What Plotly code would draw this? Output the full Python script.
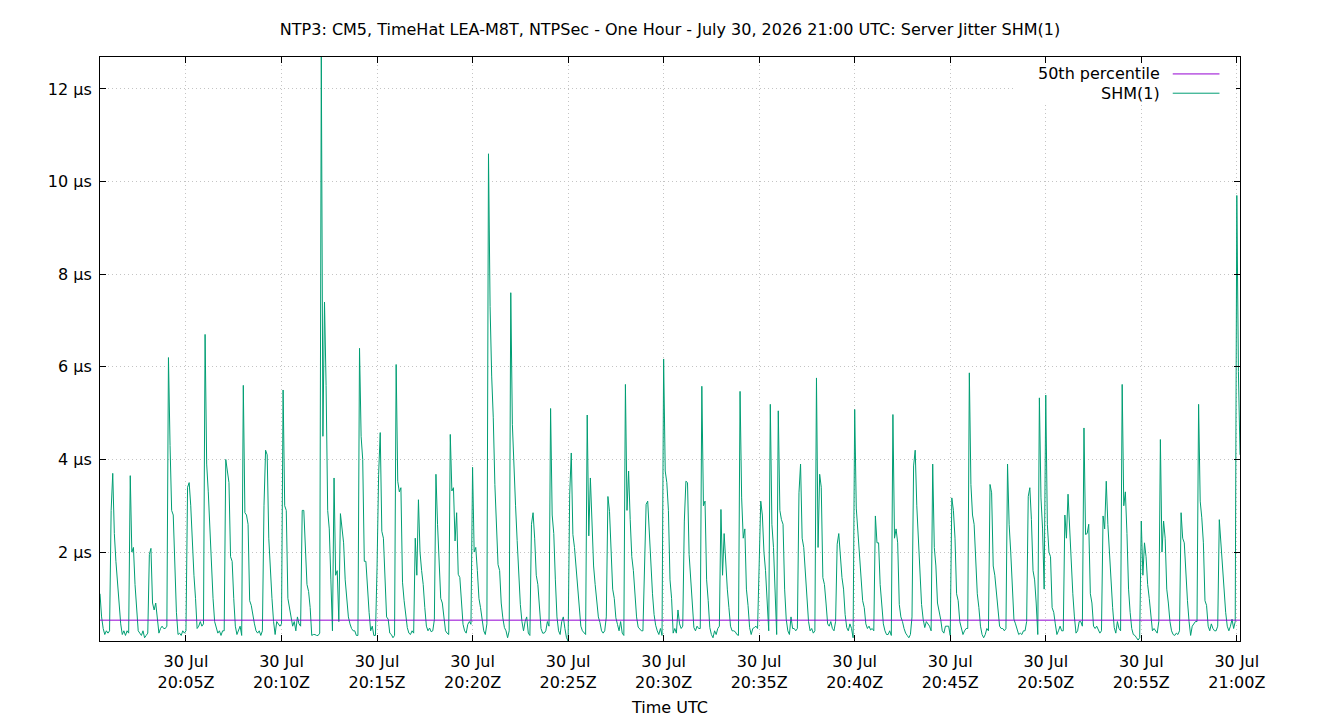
import plotly.graph_objects as go
import pandas as pd

title_text = "NTP3: CM5, TimeHat LEA-M8T, NTPSec - One Hour - July 30, 2026 21:00 UTC: Server Jitter SHM(1)"
first_sample = "2026-07-30 20:00:30"
sample_step = "5s"
median_us = 0.53

x_tick_times = ["2026-07-30 20:05", "2026-07-30 20:10", "2026-07-30 20:15", "2026-07-30 20:20",
                "2026-07-30 20:25", "2026-07-30 20:30", "2026-07-30 20:35", "2026-07-30 20:40",
                "2026-07-30 20:45", "2026-07-30 20:50", "2026-07-30 20:55", "2026-07-30 21:00"]
x_tick_text = ["30 Jul<br>20:05Z", "30 Jul<br>20:10Z", "30 Jul<br>20:15Z", "30 Jul<br>20:20Z",
               "30 Jul<br>20:25Z", "30 Jul<br>20:30Z", "30 Jul<br>20:35Z", "30 Jul<br>20:40Z",
               "30 Jul<br>20:45Z", "30 Jul<br>20:50Z", "30 Jul<br>20:55Z", "30 Jul<br>21:00Z"]
y_tick_vals = [2, 4, 6, 8, 10, 12]
y_tick_text = ["2 µs", "4 µs", "6 µs", "8 µs", "10 µs", "12 µs"]

# SHM(1) jitter in microseconds, one sample every 5 s, 20:00:30 .. 21:00:10
jitter_2000 = [
    1.1, 0.6, 0.35, 0.22, 0.3,
    0.25, 0.3, 2.9, 3.7, 2.4, 1.8, 1.3, 0.9, 0.45, 0.22, 0.3, 0.2,
    0.3, 0.25, 3.65, 2.0, 2.1, 1.3, 0.85, 0.3, 0.25, 0.2, 0.3, 0.15,
    0.2, 0.25, 1.95, 2.08, 0.9, 0.75, 0.9, 0.6, 0.25, 0.35, 0.4, 0.35,
    0.35, 0.4, 6.2, 4.3, 2.9, 2.8, 1.6, 0.7, 0.22, 0.25, 0.2, 0.3,
    0.25, 0.3, 3.4, 3.5, 3.0, 2.2, 1.5, 1.0, 0.35, 0.4, 0.5, 0.4,
    0.45, 6.7, 3.9, 3.3, 2.5, 1.5, 1.0, 0.5, 0.37, 0.25, 0.3, 0.2,
    0.3, 0.3, 4.0, 3.7, 3.5, 1.9, 1.8, 1.0, 0.4, 0.22, 0.3, 0.4,
    0.2, 5.6, 2.85, 2.8, 2.6, 0.95, 0.85, 0.6, 0.45, 0.3, 0.25, 0.3,
    0.2, 0.3, 3.0, 4.2, 4.1, 2.3, 1.5, 1.0, 0.5, 0.22, 0.5, 0.45,
    0.4, 0.45, 5.5, 3.0, 2.9, 1.0, 0.8, 0.6, 0.4, 0.5, 0.3, 0.6,
]
jitter_2010 = [
    0.45, 0.4, 2.9, 2.9, 1.9, 1.3, 1.15, 0.8, 0.2, 0.22, 0.22, 0.2,
    0.2, 0.25, 12.69, 4.5, 7.4, 5.6, 2.9, 2.5, 1.4, 0.3, 3.6, 1.5,
    1.6, 0.5, 2.83, 2.5, 2.2, 1.4, 0.95, 0.6, 0.45, 0.35, 0.3, 0.3,
    0.2, 0.2, 6.4, 4.5, 4.0, 1.8, 1.8, 1.2, 0.7, 0.3, 0.4, 0.2,
    0.2, 1.66, 3.68, 4.58, 2.45, 2.3, 1.45, 0.6, 0.55, 0.25, 0.22, 0.15,
    0.2, 6.05, 3.53, 3.3, 3.39, 1.35, 0.95, 0.6, 0.37, 0.25, 0.22, 0.3,
    0.25, 2.3, 1.5, 3.13, 2.0, 1.6, 1.3, 0.8, 0.4, 0.3, 0.36, 0.28,
    0.3, 0.54, 3.68, 2.6, 1.7, 1.0, 0.9, 0.65, 0.3, 0.25, 0.22, 4.54,
    3.32, 3.39, 2.24, 2.85, 1.52, 1.45, 1.0, 0.44, 0.3, 0.25, 0.44, 0.5,
    0.44, 3.83, 2.0, 2.1, 1.6, 1.0, 0.8, 0.58, 0.3, 0.22, 0.45, 10.6,
]
jitter_2020 = [
    7.3, 5.8, 4.9, 3.46, 2.5, 1.73, 1.6, 0.9, 0.58, 0.37, 0.3, 0.15,
    0.3, 7.6, 4.76, 3.7, 3.0, 2.25, 1.37, 0.87, 0.5, 0.3, 0.5, 0.6,
    0.25, 0.2, 2.6, 2.85, 2.3, 1.5, 1.3, 0.9, 0.35, 0.25, 0.25, 0.3,
    0.5, 0.4, 5.1, 2.8, 2.4, 1.4, 0.6, 0.3, 0.22, 0.5, 0.6, 0.35,
    0.15, 0.08, 3.25, 4.14, 2.38, 2.1, 1.7, 1.2, 0.8, 0.4, 0.3, 0.25,
    0.22, 4.96, 2.35, 3.6, 2.5, 1.7, 1.3, 0.85, 0.6, 0.48, 0.3, 0.25,
    0.3, 0.6, 3.2, 2.88, 1.9, 1.2, 1.0, 0.58, 0.44, 0.3, 0.5, 0.25,
    0.2, 5.62, 2.9, 3.75, 2.7, 1.9, 1.6, 1.0, 0.6, 0.38, 0.35, 0.3,
    0.3, 2.0, 3.03, 3.1, 2.4, 1.5, 1.1, 0.65, 0.42, 0.3, 0.22, 0.35,
    0.2, 6.17, 3.75, 3.5, 2.9, 1.4, 1.0, 0.25, 0.35, 0.25, 0.75, 0.45,
]
jitter_2030 = [
    0.35, 0.4, 2.67, 3.53, 3.5, 1.95, 1.45, 0.8, 0.37, 0.3, 0.4, 0.35,
    0.35, 5.58, 3.0, 3.1, 1.4, 0.95, 0.37, 0.22, 0.15, 0.3, 0.22, 0.35,
    0.4, 2.92, 1.5, 2.4, 1.7, 1.2, 0.8, 0.4, 0.3, 0.3, 0.28, 0.22,
    0.2, 5.47, 3.17, 2.3, 2.5, 1.2, 0.85, 0.37, 0.22, 0.35, 0.37, 0.4,
    0.35, 1.5, 3.1, 2.8, 2.0, 1.6, 0.95, 0.3, 5.19, 2.6, 2.1, 1.0,
    0.22, 5.05, 2.9, 2.7, 2.6, 1.2, 0.55, 0.3, 0.22, 0.6, 0.35, 0.35,
    0.3, 0.35, 3.28, 3.9, 2.3, 2.1, 1.5, 1.16, 0.5, 0.3, 0.35, 0.25,
    0.3, 5.76, 2.1, 3.68, 3.4, 1.45, 1.3, 0.9, 0.45, 0.4, 0.5, 0.35,
    0.3, 0.5, 2.17, 2.4, 1.9, 1.45, 1.2, 0.65, 0.37, 0.3, 0.45, 0.35,
    0.15, 5.08, 2.95, 2.4, 2.1, 1.3, 0.95, 0.8, 0.45, 0.35, 0.4, 0.32,
]
jitter_2040 = [
    0.35, 0.3, 2.78, 2.2, 2.2, 1.3, 0.8, 0.45, 0.3, 0.22, 0.22, 0.3,
    0.2, 4.97, 2.3, 2.5, 2.2, 0.87, 0.6, 0.5, 0.35, 0.25, 0.2, 0.15,
    0.22, 0.6, 3.86, 4.2, 3.0, 2.17, 1.5, 0.87, 0.55, 0.37, 0.5, 0.45,
    0.4, 0.3, 3.9, 2.1, 1.7, 0.9, 0.75, 0.55, 0.3, 0.25, 0.4, 0.4,
    0.4, 0.2, 3.17, 2.9, 2.3, 1.1, 0.95, 0.5, 0.37, 0.22, 0.3, 0.35,
    0.35, 5.87, 3.46, 2.8, 2.6, 1.9, 1.1, 0.8, 0.4, 0.22, 0.15, 0.22,
    0.35, 0.3, 3.46, 3.28, 1.7, 1.5, 1.1, 0.8, 0.4, 0.35, 0.35, 0.3,
    0.35, 3.9, 2.6, 2.0, 1.2, 0.55, 0.45, 0.3, 0.22, 0.25, 0.22, 0.3,
    0.3, 0.5, 3.2, 3.39, 2.7, 1.6, 1.4, 0.9, 0.22, 5.33, 3.17, 2.5,
    1.2, 5.39, 2.6, 2.0, 1.9, 0.8, 0.7, 0.45, 0.22, 0.3, 0.4, 0.3,
]
jitter_2050 = [
    0.3, 2.8, 2.3, 3.25, 2.4, 1.6, 1.1, 0.6, 0.25, 0.3, 0.5, 0.5,
    0.4, 4.68, 2.38, 2.4, 2.6, 1.1, 0.9, 0.4, 0.35, 0.4, 0.3, 0.25,
    0.3, 2.78, 2.5, 3.53, 2.6, 1.9, 1.5, 0.8, 0.37, 0.25, 0.5, 0.35,
    0.3, 5.62, 3.0, 3.3, 2.4, 1.2, 0.7, 0.35, 0.22, 0.2, 0.15, 0.1,
    0.15, 2.67, 1.5, 2.2, 1.9, 1.3, 1.0, 0.6, 0.3, 0.35, 0.3, 0.25,
    0.5, 4.43, 2.0, 2.67, 2.3, 1.2, 0.9, 0.5, 0.3, 0.22, 0.2, 0.25,
    0.22, 0.3, 2.85, 2.3, 2.2, 1.5, 0.95, 0.5, 0.2, 0.4, 0.45, 0.5,
    0.5, 5.19, 3.1, 2.74, 2.2, 0.95, 0.85, 0.4, 0.3, 0.45, 0.35, 0.3,
    0.3, 0.4, 2.7, 2.2, 1.5, 1.1, 0.7, 0.4, 0.3, 0.4, 0.55, 0.35,
    0.5, 9.7, 5.9, 4.1,
]

jitter = jitter_2000 + jitter_2010 + jitter_2020 + jitter_2030 + jitter_2040 + jitter_2050
times = pd.date_range(first_sample, periods=len(jitter), freq=sample_step)

GREEN = "#009e73"
PURPLE = "#9400d3"
FONT = "DejaVu Sans"
FS = 16

fig = go.Figure()
fig.add_trace(go.Scatter(x=times, y=jitter, mode="lines", name="SHM(1)",
                         line=dict(color=GREEN, width=1)))
fig.add_trace(go.Scatter(x=[times[0], times[-1]], y=[median_us, median_us], mode="lines",
                         name="50th percentile", line=dict(color=PURPLE, width=1)))

axis_common = dict(
    showline=True, linecolor="black", linewidth=1, mirror="allticks",
    ticks="inside", ticklen=6, tickcolor="black", tickwidth=1,
    showgrid=True, gridcolor="#c4c4c4", gridwidth=1, griddash="1px,3px",
    zeroline=False, tickfont=dict(family=FONT, size=FS, color="black"),
    automargin=False,
)

fig.update_layout(
    width=1340, height=720,
    margin=dict(l=100, r=100, t=57, b=79),
    paper_bgcolor="white", plot_bgcolor="white",
    showlegend=False,
    font=dict(family=FONT, size=FS, color="black"),
    title=dict(text=title_text, x=0.5, xanchor="center", y=1 - 29 / 720, yanchor="middle",
               font=dict(family=FONT, size=FS, color="black")),
    xaxis=dict(axis_common, type="date", range=[times[0], times[-1]],
               tickmode="array", tickvals=x_tick_times, ticktext=x_tick_text,
               ticklabelstandoff=6,
               title=dict(text="Time UTC", standoff=10, font=dict(family=FONT, size=FS))),
    yaxis=dict(axis_common, range=[min(jitter), max(jitter)],
               tickmode="array", tickvals=y_tick_vals, ticktext=y_tick_text,
               ticklabelstandoff=4),
)

# gnuplot-style key in the top-right corner (text left of the line sample)
fig.add_shape(type="rect", xref="x domain", yref="y domain", x0=0.801, x1=0.9965, y0=0.9195, y1=0.986,
              fillcolor="white", line=dict(width=0), layer="above")
legend_rows = [("50th percentile", PURPLE, 0.971), ("SHM(1)", GREEN, 0.938)]
for label, color, yy in legend_rows:
    fig.add_annotation(xref="x domain", yref="y domain", x=0.9316, y=yy, text=label,
                       showarrow=False, xanchor="right", yanchor="middle",
                       font=dict(family=FONT, size=FS, color="black"))
    fig.add_shape(type="line", xref="x domain", yref="y domain", x0=0.941, x1=0.982, y0=yy, y1=yy,
                  line=dict(color=color, width=1), layer="above")

fig.write_html("out.html")
